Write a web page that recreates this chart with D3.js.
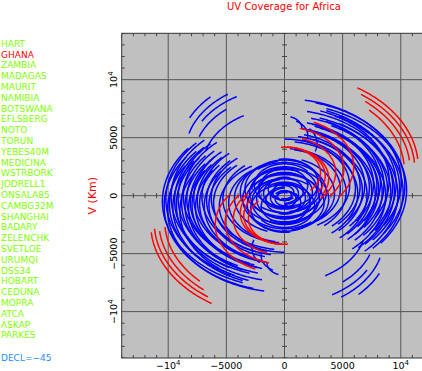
<!DOCTYPE html>
<html>
<head>
  <meta charset="utf-8">
  <title>UV Coverage for Africa</title>
  <style>
    body { margin: 0; background: #fff; }
    text { font-family: "DejaVu Sans", sans-serif; }
  </style>
</head>
<body>
  <script src="https://cdn.jsdelivr.net/npm/d3@7"></script>
  <script type="text/javascript">

var stations = ["HART", "GHANA", "ZAMBIA", "MADAGAS", "MAURIT", "NAMIBIA", "BOTSWANA",
  "EFLSBERG", "NOTO", "TORUN", "YEBES40M", "MEDICINA", "WSTRBORK", "JODRELL1",
  "ONSALA85", "CAMBG32M", "SHANGHAI", "BADARY", "ZELENCHK", "SVETLOE", "URUMQI",
  "DSS34", "HOBART", "CEDUNA", "MOPRA", "ATCA", "ASKAP", "PARKES"];
var highlight = "GHANA";

var tickValues = [-10000, -5000, 0, 5000, 10000];
var tickLabels = ["−10^4", "−5000", "0", "5000", "10^4"];

// tracks: [semi axis in u (km), centre offset in v (km), start hour angle, end hour angle]
// the conjugate track (-u,-v) is drawn for every one
var declRatio = 0.71;   // DECL=-45

var blueBand = [
  [10500, 500, 20, 128], [10350, 900, 15, 125], [10200, 300, 25, 132], [10050, 1200, 10, 122],
  [9900, 700, 28, 130], [9750, 100, 18, 135], [9600, 1000, 22, 126], [9450, 400, 30, 133],
  [9300, 800, 12, 128], [9150, 200, 26, 136], [9000, 1300, 20, 120], [8850, 600, 15, 130],
  [8700, 0, 32, 138], [8550, 900, 25, 127], [8400, 300, 18, 134], [8250, 1100, 30, 124],
  [8100, 500, 22, 132], [7950, 800, 14, 128], [7800, 200, 28, 136], [7650, 1000, 18, 126],
  [7500, 400, 24, 134], [7300, 700, 12, 130], [7100, 100, 20, 138], [6900, 900, 16, 128],
  [6700, 400, 10, 136], [6500, 800, 15, 135], [6300, 200, 8, 140], [6100, 600, 14, 138]
];
var blueMedium = [
  [4800, 600, 10, 145], [5300, 300, 5, 140], [5600, 900, 0, 150], [4300, 200, 20, 160]
];
var blueInner = [
  [3600, 300, -40, 200], [3400, -600, -80, 170], [3200, 800, -30, 220], [3000, -200, -60, 180],
  [2800, 500, -90, 160], [2600, -900, -20, 230], [2400, 300, -70, 170], [2200, -400, -40, 200],
  [2000, 900, -90, 150], [1800, -200, -30, 210], [1600, 400, -60, 180], [1400, -600, -20, 200],
  [1200, 200, 0, 180], [1000, -300, -50, 190], [800, 300, -20, 200], [600, 0, 0, 180],
  [3800, -300, -20, 170], [2900, 1100, -10, 190]
];
var blueSouth = [
  [8500, -3800, 105, 145], [7000, -2600, 105, 150], [9000, -4000, 115, 135],
  [7800, -3200, 110, 140], [8200, -3500, 120, 150]
];
var blueNorth = [
  [2800, 4500, 50, 110], [2000, 5200, 30, 100], [1500, 5800, 20, 90]
];
var redTracks = [
  [11500, 2450, 33, 85], [11200, 2300, 36, 86], [10800, 2250, 40, 84], [10300, 2200, 45, 86],
  [5950, 2500, 25, 128], [5100, 2300, 15, 130], [4400, 2000, 20, 135], [3800, 1500, 10, 120],
  [3500, 1700, -5, 125], [3100, 2000, 4, 134]
];

var width = 422, height = 371;
var x = d3.scaleLinear().domain([-14000, 14000]).range([121.7, 447.3]);
var y = d3.scaleLinear().domain([-14000, 14000]).range([358, 33.3]);

var svg = d3.select("body").append("svg")
    .attr("width", width)
    .attr("height", height);

svg.append("defs").append("clipPath").attr("id", "plot")
  .append("rect")
    .attr("x", x(-14000)).attr("y", y(14000))
    .attr("width", x(14000) - x(-14000)).attr("height", y(-14000) - y(14000));

svg.append("rect")
    .attr("x", x(-14000)).attr("y", y(14000))
    .attr("width", x(14000) - x(-14000)).attr("height", y(-14000) - y(14000))
    .style("fill", "#c0c0c0");

var grid = svg.append("g").attr("clip-path", "url(#plot)");

grid.selectAll(".gx").data(tickValues).enter().append("line")
    .attr("x1", function(d){ return x(d); }).attr("x2", function(d){ return x(d); })
    .attr("y1", y(14000)).attr("y2", y(-14000))
    .style("stroke", "#555").style("stroke-width", 1);
grid.selectAll(".gy").data(tickValues).enter().append("line")
    .attr("y1", function(d){ return y(d); }).attr("y2", function(d){ return y(d); })
    .attr("x1", x(-14000)).attr("x2", x(14000))
    .style("stroke", "#555").style("stroke-width", 1);

// minor ticks every 1000 km
var minor = d3.range(-14000, 14001, 1000).filter(function(d){ return d % 5000 !== 0; });
var t = 3;
function ticks(sel, fn) {
  sel.selectAll(null).data(minor).enter().append("line").each(fn)
    .style("stroke", "#444").style("stroke-width", 1);
}
ticks(grid, function(d){ d3.select(this).attr("x1", x(d)).attr("x2", x(d)).attr("y1", y(14000)).attr("y2", y(14000) + t); });
ticks(grid, function(d){ d3.select(this).attr("x1", x(d)).attr("x2", x(d)).attr("y1", y(-14000)).attr("y2", y(-14000) - t); });
ticks(grid, function(d){ d3.select(this).attr("y1", y(d)).attr("y2", y(d)).attr("x1", x(-14000)).attr("x2", x(-14000) + t); });
ticks(grid, function(d){ d3.select(this).attr("x1", x(d)).attr("x2", x(d)).attr("y1", y(0) - 2.5).attr("y2", y(0) + 2.5); });
ticks(grid, function(d){ d3.select(this).attr("y1", y(d)).attr("y2", y(d)).attr("x1", x(0) - 2.5).attr("x2", x(0) + 2.5); });

// uv tracks
var line = d3.line()
    .x(function(d){ return x(d[0]); })
    .y(function(d){ return y(d[1]); });

function trackPoints(tr, sign) {
  var a = tr[0], v0 = tr[1], b = a * declRatio;
  return d3.range(tr[2], tr[3] + 0.5, 1).map(function(h) {
    var r = h * Math.PI / 180;
    return [sign * a * Math.sin(r), sign * (v0 + b * Math.cos(r))];
  });
}

function drawTracks(list, colour) {
  var g = grid.append("g");
  list.forEach(function(tr) {
    [1, -1].forEach(function(s) {
      g.append("path")
          .attr("d", line(trackPoints(tr, s)))
          .style("fill", "none")
          .style("stroke", colour)
          .style("stroke-width", 1.5);
    });
  });
}

drawTracks(blueBand.concat(blueMedium, blueInner, blueSouth, blueNorth), "#0000ff");
drawTracks(redTracks, "#ff0000");

// frame
svg.append("rect")
    .attr("x", x(-14000)).attr("y", y(14000))
    .attr("width", x(14000) - x(-14000)).attr("height", y(-14000) - y(14000))
    .style("fill", "none").style("stroke", "#333").style("stroke-width", 1);

// tick labels
function label(sel, s) {
  var parts = s.split("^");
  sel.text(parts[0]);
  if (parts[1]) sel.append("tspan").attr("dy", -4).style("font-size", "7px").text(parts[1]);
}

svg.selectAll(".xl").data(tickValues).enter().append("text")
    .attr("x", function(d){ return x(d); })
    .attr("y", 369)
    .attr("text-anchor", "middle")
    .style("font-size", "9.5px")
    .style("fill", "#000")
    .each(function(d, i){ label(d3.select(this), tickLabels[i]); });

svg.selectAll(".yl").data(tickValues).enter().append("text")
    .attr("transform", function(d){ return "translate(117," + y(d) + ") rotate(-90)"; })
    .attr("text-anchor", "middle")
    .style("font-size", "9.5px")
    .style("fill", "#000")
    .each(function(d, i){ label(d3.select(this), tickLabels[i]); });

svg.append("text")
    .attr("transform", "translate(96," + y(0) + ") rotate(-90)")
    .attr("text-anchor", "middle")
    .style("font-size", "11px")
    .style("fill", "#ff0000")
    .text("V (Km)");

svg.append("text")
    .attr("x", 284).attr("y", 9.5)
    .attr("text-anchor", "middle")
    .style("font-size", "10px")
    .style("fill", "#ff0000")
    .text("UV Coverage for Africa");

svg.selectAll(".st").data(stations).enter().append("text")
    .attr("x", 1)
    .attr("y", function(d, i){ return 46.7 + i * 10.8; })
    .style("font-size", "9px")
    .style("fill", function(d){ return d === highlight ? "#ff0000" : "#80ff00"; })
    .text(function(d){ return d; });

svg.append("text")
    .attr("x", 1).attr("y", 361)
    .style("font-size", "9px")
    .style("fill", "#1a8cff")
    .text("DECL=−45");

  </script>
</body>
</html>
